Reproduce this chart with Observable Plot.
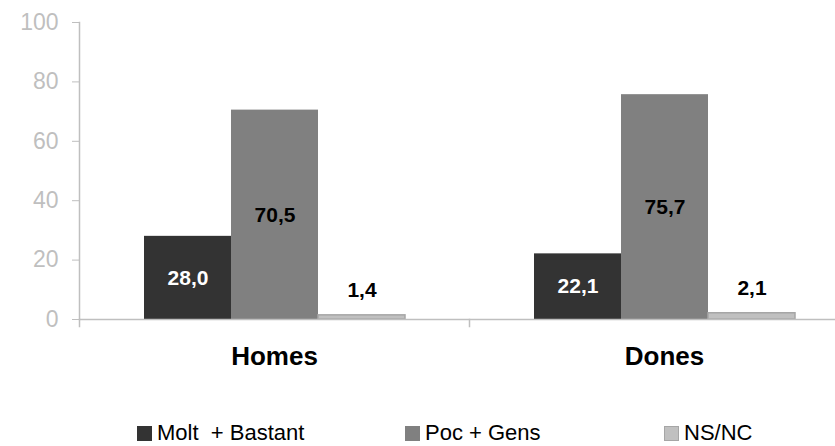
<!DOCTYPE html>
<html>
<head>
<meta charset="utf-8">
<script src="https://cdn.jsdelivr.net/npm/d3@7"></script>
<script src="https://cdn.jsdelivr.net/npm/@observablehq/plot@0.6"></script>
<style>
  html, body { margin: 0; padding: 0; background: #fff; overflow: hidden; width: 835px; height: 446px; }
  #chart { width: 835px; height: 400px; overflow: hidden; }
  #legend { position: relative; height: 46px; font-family: "Liberation Sans", Arial, sans-serif; font-size: 22px; color: #000; }
  .item { position: absolute; top: 20px; display: flex; align-items: center; white-space: pre; line-height: 26px; }
  .sw { width: 15px; height: 15px; margin-right: 5px; box-sizing: border-box; }
</style>
</head>
<body>
<div id="chart"></div>
<div id="legend"></div>
<script>
const groups = ["Homes", "Dones"];
const series = ["Molt  + Bastant", "Poc + Gens", "NS/NC"];
const homesValues = [28.0, 70.5, 1.4];
const donesValues = [22.1, 75.7, 2.1];
const seriesColors = ["#333333", "#808080", "#c0c0c0"];
const labelColors = ["#ffffff", "#000000", "#000000"];
const yTicks = [0, 20, 40, 60, 80, 100];

const valuesByGroup = [homesValues, donesValues];
const data = groups.flatMap((g, gi) =>
  series.map((s, si) => ({group: g, series: s, si, value: valuesByGroup[gi][si]}))
);
const fmt = v => v.toFixed(1).replace(".", ",");

const chart = Plot.plot({
  width: 859,
  height: 400,
  marginLeft: 79,
  marginRight: 0,
  marginTop: 22,
  marginBottom: 81,
  style: {fontFamily: "'Liberation Sans', Arial, sans-serif", background: "#fff", maxWidth: "none"},
  fx: {domain: groups, padding: 0, label: null},
  x: {domain: series, paddingInner: 0, paddingOuter: 0.74, axis: null},
  y: {domain: [0, 100], label: null},
  color: {domain: series, range: seriesColors},
  marks: [
    Plot.axisY({ticks: yTicks, tickSize: 7, tickPadding: 14, fontSize: 23, color: "#bfbfbf", label: null, tickFormat: d => d}),
    Plot.frame({anchor: "left", facet: "super", stroke: "#bfbfbf", strokeWidth: 1.5}),
    Plot.frame({anchor: "left", stroke: "#bfbfbf", strokeWidth: 1.5, insetTop: 297, insetBottom: -7}),
    Plot.axisFx({anchor: "bottom", tickSize: 0, tickPadding: 27, fontSize: 26, fontWeight: "bold", color: "#000", label: null}),
    Plot.barY(data.filter(d => d.si < 2), {fx: "group", x: "series", y: "value", fill: "series"}),
    Plot.barY(data.filter(d => d.si === 2), {fx: "group", x: "series", y: "value", fill: "series", stroke: "#a6a6a6", strokeWidth: 1.5}),
    Plot.ruleY([0], {stroke: "#bfbfbf", strokeWidth: 1.5}),
    Plot.text(data.filter(d => d.si < 2), {fx: "group", x: "series", y: d => d.value / 2, text: d => fmt(d.value), fill: d => labelColors[d.si], fontSize: 21, fontWeight: "bold"}),
    Plot.text(data.filter(d => d.si === 2), {fx: "group", x: "series", y: "value", text: d => fmt(d.value), fill: "#000", fontSize: 21, fontWeight: "bold", dy: -25})
  ]
});
document.getElementById("chart").append(chart);

const legend = document.getElementById("legend");
const lefts = [137, 405, 664];
series.forEach((s, i) => {
  const it = document.createElement("div");
  it.className = "item";
  it.style.left = lefts[i] + "px";
  const sw = document.createElement("span");
  sw.className = "sw";
  sw.style.background = seriesColors[i];
  if (i === 2) sw.style.border = "1.5px solid #a6a6a6";
  const t = document.createElement("span");
  t.textContent = s;
  it.append(sw, t);
  legend.append(it);
});
</script>
</body>
</html>
